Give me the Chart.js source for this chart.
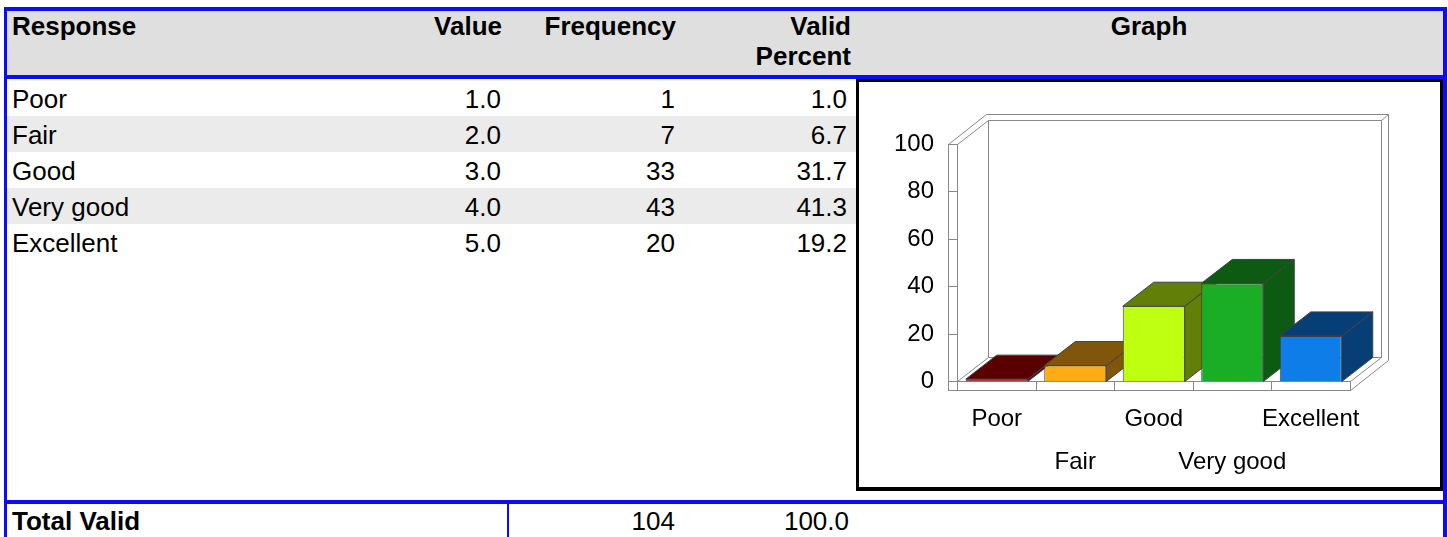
<!DOCTYPE html>
<html>
<head>
<meta charset="utf-8">
<script src="https://cdn.jsdelivr.net/npm/chart.js@4"></script>
<style>
  body { margin: 0; width: 1448px; height: 537px; overflow: hidden; background: #fff;
         font-family: 'Liberation Sans', Arial, sans-serif; position: relative; }
  .box { position: absolute; }
  .t { position: absolute; font-size: 26px; line-height: 30px; white-space: nowrap; color: #000; }
  .b { font-weight: bold; }
</style>
</head>
<body>
<script>
const responses = ['Poor', 'Fair', 'Good', 'Very good', 'Excellent']
const values = [1.0, 2.0, 3.0, 4.0, 5.0]
const frequencies = [1, 7, 33, 43, 20]
const validPercent = [1.0, 6.7, 31.7, 41.3, 19.2]
const totalFrequency = 104
const totalPercent = 100.0
const yMax = 100
const yStep = 20

// bar colours: front face, top/side face
const frontColors = ['#b00000', '#ffab13', '#bfff10', '#19ae26', '#0f7de8']
const sideColors = ['#5a0000', '#80560a', '#628008', '#0d5b13', '#073e75']

const BLUE = '#0b0bff'

function addBox(left, top, width, height, color) {
  const d = document.createElement('div')
  d.className = 'box'
  d.style.cssText += `left:${left}px;top:${top}px;width:${width}px;height:${height}px;background:${color}`
  document.body.appendChild(d)
  return d
}

function addText(txt, opts) {
  const d = document.createElement('div')
  d.className = 't' + (opts.bold ? ' b' : '')
  d.innerHTML = txt
  d.style.top = opts.top + 'px'
  if (opts.right != null) {
    d.style.right = (1448 - opts.right) + 'px'
    d.style.textAlign = 'right'
  } else if (opts.center != null) {
    d.style.left = (opts.center - 200) + 'px'
    d.style.width = '400px'
    d.style.textAlign = 'center'
  } else {
    d.style.left = opts.left + 'px'
  }
  document.body.appendChild(d)
}

// table frame
addBox(7, 11, 1436, 64, '#dfdfdf')
const rowTop = 80
const rowH = 36
responses.forEach((r, i) => {
  if (i % 2 === 1) addBox(7, rowTop + i * rowH, 849, rowH, '#ebebeb')
})
addBox(4, 7, 1443, 4, BLUE)
addBox(4, 75, 1443, 4, BLUE)
addBox(4, 7, 3, 530, BLUE)
addBox(1443, 7, 4, 530, BLUE)
addBox(4, 500, 1443, 4, BLUE)
addBox(507, 504, 2, 33, BLUE)

const graphBox = addBox(856, 79, 587, 412, '#fff')
graphBox.style.border = '3px solid #000'
graphBox.style.borderBottomWidth = '4px'
graphBox.style.boxSizing = 'border-box'

// header
addText('Response', { left: 12, top: 11, bold: true })
addText('Value', { right: 502, top: 11, bold: true })
addText('Frequency', { right: 676, top: 11, bold: true })
addText('Valid<br>Percent', { right: 851, top: 11, bold: true })
addText('Graph', { center: 1149, top: 11, bold: true })

// rows
responses.forEach((r, i) => {
  const top = rowTop + i * rowH + 4
  addText(r, { left: 12, top })
  addText(values[i].toFixed(1), { right: 501, top })
  addText(String(frequencies[i]), { right: 675, top })
  addText(validPercent[i].toFixed(1), { right: 847, top })
})

// total
addText('Total Valid', { left: 12, top: 506, bold: true })
addText(String(totalFrequency), { right: 675, top: 506 })
addText(totalPercent.toFixed(1), { right: 849, top: 506 })

const canvas = document.createElement('canvas')
canvas.width = 581
canvas.height = 405
canvas.style.cssText = 'position:absolute;left:859px;top:82px'
document.body.appendChild(canvas)

// 3D look: depth offset of bars/floor, wall thickness
const depth = { dx: 31, dy: -24 }
const wallT = 9
const backT = { dx: 7, dy: -6 }
const snap = (v) => Math.floor(v) + 0.5

const frame3d = {
  id: 'frame3d',
  beforeDatasetsDraw(chart) {
    const ctx = chart.ctx
    const xs = chart.scales.x
    const ys = chart.scales.y
    const L = snap(xs.left)
    const R = snap(xs.right)
    const T = snap(ys.getPixelForValue(yMax))
    const B = snap(ys.getPixelForValue(0))
    const dx = depth.dx
    const dy = depth.dy
    const ox = dx + backT.dx
    const oy = dy + backT.dy

    ctx.save()
    ctx.strokeStyle = '#888'
    ctx.lineWidth = 1
    const line = (pts) => {
      ctx.beginPath()
      ctx.moveTo(pts[0][0], pts[0][1])
      for (let i = 1; i < pts.length; i++) ctx.lineTo(pts[i][0], pts[i][1])
      ctx.stroke()
    }
    // back wall (outer and inner)
    line([[L - wallT, T], [L - wallT + ox, T + oy], [R + ox, T + oy], [R + ox, B + wallT + oy], [R, B + wallT]])
    line([[L, T], [L + dx, T + dy], [R + dx, T + dy], [R + dx, B + dy]])
    line([[R + dx, T + dy], [R + ox, T + oy]])
    line([[L + dx, T + dy], [L + dx, B + dy], [R + dx, B + dy]])
    // floor top
    line([[L, B], [L + dx, B + dy]])
    line([[R, B], [R + dx, B + dy]])
    line([[L, B], [R, B]])
    // floor front face + dividers
    ctx.strokeRect(L - wallT, B, R - L + wallT, wallT)
    for (let i = 0; i < xs.ticks.length - 1; i++) {
      const xm = snap((xs.getPixelForTick(i) + xs.getPixelForTick(i + 1)) / 2)
      line([[xm, B], [xm, B + wallT]])
    }
    // left wall front face + ticks
    ctx.strokeRect(L - wallT, T, wallT, B + wallT - T)
    ys.ticks.forEach((t) => {
      if (t.value === 0) return
      const yp = snap(ys.getPixelForValue(t.value))
      line([[L - wallT, yp], [L, yp]])
    })

    // bar tops and sides
    const meta = chart.getDatasetMeta(0)
    ctx.strokeStyle = '#404040'
    meta.data.forEach((bar, i) => {
      const p = bar.getProps(['x', 'y', 'base', 'width'])
      const left = p.x - p.width / 2
      const right = p.x + p.width / 2
      ctx.fillStyle = sideColors[i]
      const poly = (pts) => {
        ctx.beginPath()
        ctx.moveTo(pts[0][0], pts[0][1])
        for (let k = 1; k < pts.length; k++) ctx.lineTo(pts[k][0], pts[k][1])
        ctx.closePath()
        ctx.fill()
        ctx.stroke()
      }
      poly([[right, p.y], [right + dx, p.y + dy], [right + dx, p.base + dy], [right, p.base]])
      poly([[left, p.y], [right, p.y], [right + dx, p.y + dy], [left + dx, p.y + dy]])
    })
    ctx.restore()
  },
}

const tickFont = { family: "'Liberation Sans', Arial, sans-serif", size: 24 }

new Chart(canvas.getContext('2d'), {
  type: 'bar',
  data: {
    labels: responses,
    datasets: [
      {
        data: validPercent,
        backgroundColor: frontColors,
        borderColor: '#404040',
        borderWidth: 1,
        barPercentage: 0.79,
        categoryPercentage: 1,
      },
    ],
  },
  options: {
    responsive: false,
    animation: false,
    devicePixelRatio: 1,
    layout: { padding: { top: 62, right: 90, left: 0, bottom: 0 } },
    plugins: { legend: { display: false }, tooltip: { enabled: false } },
    scales: {
      x: {
        grid: { display: false, drawTicks: false },
        border: { display: false },
        ticks: {
          color: '#000',
          font: { ...tickFont, lineHeight: '43px' },
          padding: 16,
          maxRotation: 0,
          autoSkip: false,
          callback: (v, i) => (i % 2 ? ['', responses[i]] : responses[i]),
        },
        afterFit: (scale) => {
          scale.height = 105.5
          scale.paddingLeft = 0
          scale.paddingRight = 0
        },
      },
      y: {
        min: 0,
        max: yMax,
        grid: { display: false, drawTicks: false },
        border: { display: false },
        ticks: { stepSize: yStep, color: '#000', font: tickFont, padding: 23.5 },
        afterFit: (scale) => {
          scale.width = 98.5
        },
      },
    },
  },
  plugins: [frame3d],
})
</script>
</body>
</html>
